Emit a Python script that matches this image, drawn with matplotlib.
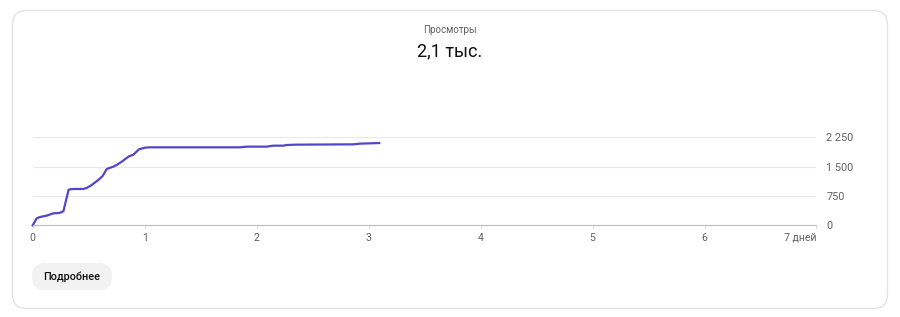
import matplotlib
matplotlib.use('Agg')
import matplotlib.pyplot as plt
from matplotlib.patches import FancyBboxPatch

plt.rcParams['font.family'] = ['Roboto', 'DejaVu Sans']

# данные: дни с момента публикации и накопленные просмотры
days = [0, 0.036, 0.066, 0.125, 0.185, 0.238, 0.274, 0.321, 0.363, 0.452, 0.482,
        0.527, 0.586, 0.625, 0.661, 0.720, 0.750, 0.795, 0.855, 0.899, 0.949,
        1.003, 1.048, 1.851, 1.911, 2.089, 2.149, 2.238, 2.268, 2.357, 2.863,
        2.923, 3.012, 3.095]
views = [0, 179, 213, 247, 307, 315, 358, 912, 929, 929, 954,
         1031, 1159, 1261, 1440, 1500, 1542, 1627, 1755, 1806, 1942,
         1985, 1994, 1994, 2011, 2011, 2036, 2036, 2053, 2062, 2070,
         2087, 2096, 2104]
x_ticks = [0, 1, 2, 3, 4, 5, 6, 7]
x_labels = ['0', '1', '2', '3', '4', '5', '6', '7 дней']
y_ticks = [0, 750, 1500, 2250]
y_labels = ['0', '750', '1 500', '2 250']
title = 'Просмотры'
total = '2,1 тыс.'
button = 'Подробнее'

W, H = 900, 317
fig = plt.figure(figsize=(W / 100, H / 100), dpi=100)

# фон: карточка и кнопка, координаты в пикселях
bg = fig.add_axes([0, 0, 1, 1], zorder=0)
bg.set_xlim(0, W)
bg.set_ylim(H, 0)
bg.axis('off')
card = FancyBboxPatch((12.5, 10.5), 875, 298, boxstyle='round,pad=0,rounding_size=14',
                      fc='white', ec='#e3e3e3', lw=1)
bg.add_patch(card)
btn = FancyBboxPatch((32, 263), 80, 27, boxstyle='round,pad=0,rounding_size=13.5',
                     fc='#f2f2f2', ec='none')
bg.add_patch(btn)
bg.text(72, 277, button, ha='center', va='center', fontsize=7.8,
        fontweight='medium', color='#0f0f0f')
bg.text(450, 30, title, ha='center', va='center', fontsize=7, color='#606060')
bg.text(450, 51, total, ha='center', va='center', fontsize=13, color='#0f0f0f')

# график
left, right = 32.7, 816.5
bottom, top = 225.3, 137.3
ax = fig.add_axes([left / W, 1 - bottom / H, (right - left) / W, (bottom - top) / H],
                  zorder=1)
ax.patch.set_alpha(0)
ax.plot(days, views, color='#5147c8', lw=1.6, solid_joinstyle='round', clip_on=False)
ax.set_xlim(0, 7)
ax.set_ylim(0, 2250)

for s in ['top', 'right', 'left']:
    ax.spines[s].set_visible(False)
ax.spines['bottom'].set_color('#bdbdbd')
ax.spines['bottom'].set_linewidth(0.8)
ax.grid(axis='y', color='#e8e8e8', lw=0.8)

ax.set_xticks(x_ticks)
ax.set_xticklabels(x_labels)
xl = ax.get_xticklabels()
xl[-1].set_ha('right')
ax.tick_params(axis='x', length=2.5, width=0.6, color='#d0d0d0', pad=3,
               labelsize=7.6, labelcolor='#606060')

ax.yaxis.tick_right()
ax.set_yticks(y_ticks)
ax.set_yticklabels(y_labels)
ax.tick_params(axis='y', length=0, pad=7, labelsize=7.8, labelcolor='#606060')

fig.savefig('out.png', dpi=100)
